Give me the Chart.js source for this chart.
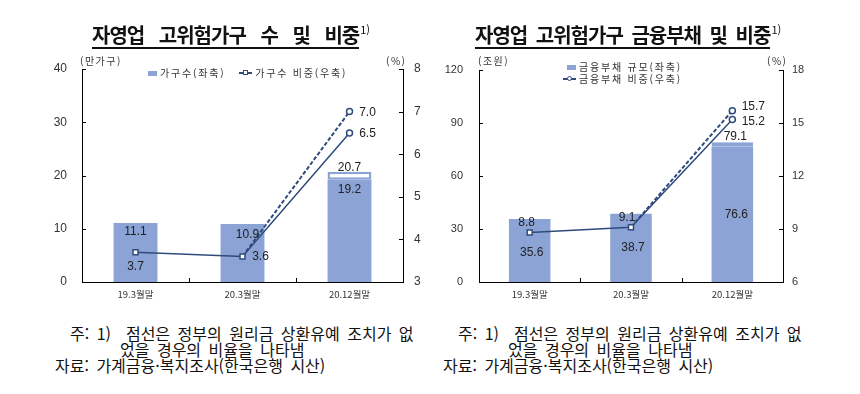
<!DOCTYPE html>
<html lang="ko">
<head>
<meta charset="utf-8">
<script src="https://cdn.jsdelivr.net/npm/chart.js@4/dist/chart.umd.min.js"></script>
<style>
  html, body { margin: 0; padding: 0; background: #fff; }
  #page { position: relative; width: 860px; height: 394px; overflow: hidden; font-family: "Noto Sans CJK KR", "Noto Sans", sans-serif; color: #222; }
  canvas { position: absolute; top: 0; }
  .abs { position: absolute; white-space: nowrap; }
  .title { font-size: 20px; font-weight: bold; letter-spacing: -1px; line-height: 20px; color: #111; }
  .title .main { display: inline-block; padding-bottom: 2px; border-bottom: 2px solid #111; }
  .title sup { font-size: 11px; font-weight: normal; letter-spacing: 0; vertical-align: top; position: relative; top: -6px; margin-left: 1px; }
  .unit { font-size: 10px; letter-spacing: 1.5px; line-height: 12px; color: #333; }
  .legend { font-size: 10px; letter-spacing: 1.8px; line-height: 12px; color: #333; }
  .legend .box { display: inline-block; width: 9px; height: 5px; background: #8BA3D5; margin-right: 3px; vertical-align: middle; position: relative; top: -1px; }
  .legend .mk { display: inline-block; position: relative; width: 13px; height: 8px; margin-right: 3px; vertical-align: middle; top: -1px; }
  .legend .mk::before { content: ""; position: absolute; left: 0; right: 0; top: 3px; height: 1.5px; background: #2F4B7C; }
  .legend .mk::after { content: ""; position: absolute; left: 4px; top: 1px; width: 3px; height: 3px; border: 1.2px solid #2F4B7C; background: #fff; }
  .legend .mk.round::after { border-radius: 50%; }
  .note { font-size: 16px; letter-spacing: 0; word-spacing: 3px; line-height: 16px; color: #111; }
</style>
</head>
<body>
<div id="page">
  <canvas id="chartCount" width="430" height="310" style="left:0"></canvas>
  <canvas id="chartDebt" width="430" height="310" style="left:430px"></canvas>

  <div class="abs title" style="left:92px; top:25px; word-spacing:10px"><span class="main">자영업 고위험가구 수 및 비중</span><sup>1)</sup></div>
  <div class="abs title" style="left:475px; top:25px; word-spacing:4px"><span class="main">자영업 고위험가구 금융부채 및 비중</span><sup>1)</sup></div>

  <div class="abs unit" style="left:80px; top:55px">(만가구)</div>
  <div class="abs unit" style="left:386px; top:55px">(%)</div>
  <div class="abs unit" style="left:478px; top:55px">(조원)</div>
  <div class="abs unit" style="left:767px; top:55px">(%)</div>

  <div class="abs legend" style="left:148px; top:67px"><span class="box"></span>가구수(좌축)&nbsp;&nbsp;&nbsp;<span class="mk"></span>가구수 비중(우축)</div>
  <div class="abs legend" style="left:567px; top:61px"><span class="box"></span>금융부채 규모(좌축)</div>
  <div class="abs legend" style="left:563px; top:73px"><span class="mk round"></span>금융부채 비중(우축)</div>

  <div class="abs note" style="left:70px; top:325px">주: 1)&nbsp; 점선은 정부의 원리금 상환유예 조치가 없</div>
  <div class="abs note" style="left:120px; top:341px">었을 경우의 비율을 나타냄</div>
  <div class="abs note" style="left:55px; top:357px">자료: 가계금융·복지조사(한국은행 시산)</div>
  <div class="abs note" style="left:458px; top:325px">주: 1)&nbsp; 점선은 정부의 원리금 상환유예 조치가 없</div>
  <div class="abs note" style="left:508px; top:341px">었을 경우의 비율을 나타냄</div>
  <div class="abs note" style="left:443px; top:357px">자료: 가계금융·복지조사(한국은행 시산)</div>
</div>

<script>
// categories
var periods = ['19.3월말', '20.3월말', '20.12월말'];

// left chart: households (10k) and share (%)
var households = [11.1, 10.9, 19.2];
var householdsNoDeferral = [null, null, 20.7];
var householdShare = [3.7, 3.6, 6.5];
var householdShareNoDeferral = [null, 3.6, 7.0];
var countTicks = [0, 10, 20, 30, 40];
var countShareTicks = [3, 4, 5, 6, 7, 8];

// right chart: financial debt (trillion won) and share (%)
var debt = [35.6, 38.7, 76.6];
var debtNoDeferral = [null, null, 79.1];
var debtShare = [8.8, 9.1, 15.2];
var debtShareNoDeferral = [null, 9.1, 15.7];
var debtTicks = [0, 30, 60, 90, 120];
var debtShareTicks = [6, 9, 12, 15, 18];

var BAR = '#8BA3D5';
var LINE = '#2F4B7C';

// floating bar from the actual value up to the no-deferral value
function outlineRange(base, top) {
    return top.map(function(v, i) { return v == null ? null : [base[i], v]; });
}

// inward ticks and value labels
var decorations = {
    id: 'decorations',
    afterDraw: function(chart) {
        var ctx = chart.ctx;
        var a = chart.chartArea;
        ctx.save();
        ctx.strokeStyle = '#000';
        ctx.lineWidth = 1;
        ctx.beginPath();
        chart.scales.y.ticks.forEach(function(t) {
            var y = Math.round(chart.scales.y.getPixelForValue(t.value)) + 0.5;
            ctx.moveTo(a.left, y); ctx.lineTo(a.left + 4, y);
        });
        chart.scales.y1.ticks.forEach(function(t) {
            var y = Math.round(chart.scales.y1.getPixelForValue(t.value)) + 0.5;
            ctx.moveTo(a.right - 4, y); ctx.lineTo(a.right, y);
        });
        var n = chart.data.labels.length;
        for (var k = 1; k < n; k++) {
            var x = Math.round(a.left + k * (a.right - a.left) / n) + 0.5;
            ctx.moveTo(x, a.bottom); ctx.lineTo(x, a.bottom - 4);
        }
        ctx.stroke();

        ctx.font = chart.options.plugins.decorations.font;
        ctx.fillStyle = '#222';
        ctx.textAlign = 'center';
        ctx.textBaseline = 'middle';
        chart.data.datasets.forEach(function(ds, i) {
            if (!ds.labelAt) return;
            var meta = chart.getDatasetMeta(i);
            meta.data.forEach(function(el, j) {
                var off = ds.labelAt[j];
                var raw = ds.data[j];
                if (!off || raw == null) return;
                var v = Array.isArray(raw) ? raw[1] : raw;
                var y = off[2] === 'mid' ? (el.y + el.base) / 2 : el.y;
                ctx.fillText(v.toFixed(1), el.x + off[0], y + off[1]);
            });
        });
        ctx.restore();
    }
};

function buildChart(id, o) {
    var ctx = document.getElementById(id).getContext('2d');
    return new Chart(ctx, {
        type: 'bar',
        data: {
            labels: periods,
            datasets: [
                {
                    type: 'line',
                    data: o.share,
                    yAxisID: 'y1',
                    borderColor: LINE,
                    borderWidth: 1.5,
                    pointStyle: ['rect', 'rect', 'circle'],
                    pointRadius: [3.5, 3.5, 3],
                    pointBorderWidth: 1.5,
                    pointBackgroundColor: '#fff',
                    pointBorderColor: LINE,
                    tension: 0,
                    order: 0,
                    labelAt: o.shareLabels
                },
                {
                    type: 'line',
                    data: o.shareNoDeferral,
                    yAxisID: 'y1',
                    borderColor: LINE,
                    borderWidth: 2,
                    borderDash: [4, 2],
                    pointStyle: 'circle',
                    pointRadius: [0, 0, 3],
                    pointBorderWidth: 1.5,
                    pointBackgroundColor: '#fff',
                    pointBorderColor: LINE,
                    tension: 0,
                    order: 0,
                    labelAt: o.shareNoDeferralLabels
                },
                {
                    data: o.bars,
                    yAxisID: 'y',
                    backgroundColor: BAR,
                    borderWidth: 0,
                    grouped: false,
                    categoryPercentage: 1,
                    barPercentage: o.barPct,
                    order: 2,
                    labelAt: o.barLabels
                },
                {
                    data: outlineRange(o.bars, o.barsNoDeferral),
                    yAxisID: 'y',
                    backgroundColor: '#fff',
                    borderColor: BAR,
                    borderWidth: 2.5,
                    borderSkipped: false,
                    grouped: false,
                    categoryPercentage: 1,
                    barPercentage: o.barPct,
                    order: 1,
                    labelAt: o.outlineLabels
                }
            ]
        },
        options: {
            responsive: false,
            animation: false,
            layout: { padding: o.padding },
            plugins: {
                legend: { display: false },
                tooltip: { enabled: false },
                decorations: { font: o.labelFont }
            },
            scales: {
                x: {
                    grid: { display: false, drawTicks: false },
                    border: { color: '#000', width: 1 },
                    ticks: { padding: 7, color: '#333', font: { family: '"Noto Sans CJK KR"', size: 9.5 } },
                    afterFit: function(s) { s.height = 20; }
                },
                y: {
                    position: 'left',
                    min: o.leftTicks[0],
                    max: o.leftTicks[o.leftTicks.length - 1],
                    afterBuildTicks: function(s) { s.ticks = o.leftTicks.map(function(v) { return { value: v }; }); },
                    grid: { display: false, drawTicks: false },
                    border: { color: '#000', width: 1 },
                    ticks: { padding: o.leftPad, color: '#333', font: { family: '"Liberation Sans"', size: o.tickSize } },
                    afterFit: function(s) { s.width = 40; }
                },
                y1: {
                    position: 'right',
                    min: o.rightTicks[0],
                    max: o.rightTicks[o.rightTicks.length - 1],
                    afterBuildTicks: function(s) { s.ticks = o.rightTicks.map(function(v) { return { value: v }; }); },
                    grid: { display: false, drawTicks: false },
                    border: { color: '#000', width: 1 },
                    ticks: { padding: o.rightPad, color: '#333', font: { family: '"Liberation Sans"', size: o.tickSize } },
                    afterFit: function(s) { s.width = 27; }
                }
            }
        },
        plugins: [decorations]
    });
}

buildChart('chartCount', {
    bars: households,
    barsNoDeferral: householdsNoDeferral,
    share: householdShare,
    shareNoDeferral: householdShareNoDeferral,
    leftTicks: countTicks,
    rightTicks: countShareTicks,
    padding: { left: 42, right: 0, top: 69, bottom: 8 },
    barPct: 0.41,
    leftPad: 15,
    rightPad: 11,
    tickSize: 12,
    labelFont: '12px "Liberation Sans", Arial, sans-serif',
    barLabels: [[0, 9], [5, 11], [0, 10]],
    outlineLabels: [null, null, [0, -4]],
    shareLabels: [[0, 15], [18, 0], [18, 1]],
    shareNoDeferralLabels: [null, null, [18, 1]]
});

buildChart('chartDebt', {
    bars: debt,
    barsNoDeferral: debtNoDeferral,
    share: debtShare,
    shareNoDeferral: debtShareNoDeferral,
    leftTicks: debtTicks,
    rightTicks: debtShareTicks,
    padding: { left: 9, right: 50, top: 70, bottom: 8 },
    barPct: 0.41,
    leftPad: 16,
    rightPad: 9,
    tickSize: 11,
    labelFont: '12px "Liberation Sans", Arial, sans-serif',
    barLabels: [[2, 2, 'mid'], [2, 0, 'mid'], [4, 0, 'mid']],
    outlineLabels: [null, null, [3, -6]],
    shareLabels: [[-3, -10], [-4, -10], [21, 2]],
    shareNoDeferralLabels: [null, null, [21, -4]]
});
</script>
</body>
</html>
